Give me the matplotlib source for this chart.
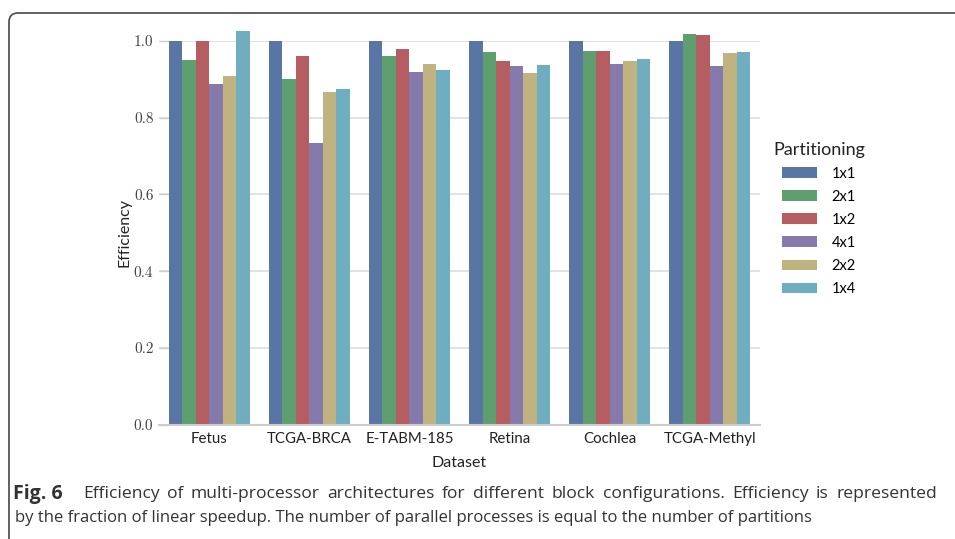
import numpy as np
import matplotlib
matplotlib.use("Agg")
import matplotlib.pyplot as plt
from matplotlib.patches import PathPatch
from matplotlib.path import Path

datasets = ["Fetus", "TCGA-BRCA", "E-TABM-185", "Retina", "Cochlea", "TCGA-Methyl"]
partitions = ["1x1", "2x1", "1x2", "4x1", "2x2", "1x4"]

eff_1x1 = [1.000, 1.000, 1.000, 1.000, 1.000, 1.000]
eff_2x1 = [0.950, 0.900, 0.960, 0.970, 0.973, 1.017]
eff_1x2 = [0.998, 0.960, 0.978, 0.946, 0.973, 1.015]
eff_4x1 = [0.887, 0.733, 0.918, 0.934, 0.939, 0.934]
eff_2x2 = [0.908, 0.866, 0.939, 0.916, 0.946, 0.968]
eff_1x4 = [1.025, 0.874, 0.924, 0.936, 0.952, 0.970]
series = [eff_1x1, eff_2x1, eff_1x2, eff_4x1, eff_2x2, eff_1x4]

colors = ["#5975a4", "#5f9e6e", "#b55d60", "#857aab", "#c1b37f", "#6fadc0"]

caption_bold = "Fig. 6"
caption_line1 = ("Efficiency of multi-processor architectures for different block "
                 "configurations. Efficiency is represented")
caption_line2 = ("by the fraction of linear speedup. The number of parallel processes "
                 "is equal to the number of partitions")

fig = plt.figure(figsize=(9.55, 5.39), dpi=100)
W, H = 955, 539
ax = fig.add_axes([159 / W, (H - 425) / H, (760 - 159) / W, (425 - 40.7) / H])

x = np.arange(len(datasets))
n = len(series)
bw = 0.81 / n
for i, (vals, c) in enumerate(zip(series, colors)):
    ax.bar(x - 0.405 + bw * (i + 0.5), vals, width=bw, color=c, label=partitions[i],
           linewidth=0, zorder=2, clip_on=False)

ax.set_xlim(-0.5, len(datasets) - 0.5)
ax.set_ylim(0, 1.0)
yt = [0.0, 0.2, 0.4, 0.6, 0.8, 1.0]
ax.set_yticks(yt)
ax.set_yticklabels([f"{v:.1f}" for v in yt], fontfamily="cmr10", fontsize=11, color="#444444")
ax.set_xticks(x)
ax.set_xticklabels(datasets, fontfamily="Lato", fontsize=10.8, color="#222222")
ax.tick_params(axis="x", length=0, pad=5)
ax.tick_params(axis="y", direction="in", length=7, width=1, color="#cccccc", pad=4)
ax.grid(axis="y", color="#dddddd", linewidth=1.2, zorder=0)
ax.set_axisbelow(True)
for s in ["top", "right", "left"]:
    ax.spines[s].set_visible(False)
ax.spines["bottom"].set_color("#cccccc")
ax.spines["bottom"].set_linewidth(1.5)

ax.set_xlabel("Dataset", fontfamily="Lato", fontsize=11.5, color="#222222", labelpad=7)
ax.set_ylabel("Efficiency", fontfamily="Lato", fontsize=11.5, color="#222222", labelpad=2)

leg = ax.legend(title="Partitioning", loc="center left", bbox_to_anchor=(1.0, 0.537),
                frameon=False, prop={"family": "Lato", "size": 10.5},
                handlelength=2.4, handleheight=0.7, handletextpad=1.0, labelspacing=0.62)
leg.get_title().set_fontfamily("Lato")
leg.get_title().set_fontsize(13)
leg.get_title().set_color("#222222")

# caption, first line justified between x=83 and x=937
renderer = fig.canvas.get_renderer()
y1 = 1 - 494 / H
y2 = 1 - 518 / H
fig.text(13 / W, y1, caption_bold, fontsize=14, color="#333333", fontweight="bold",
         va="center", ha="left", fontfamily="Open Sans")
words = caption_line1.split()
word_texts = [fig.text(0, y1, w, fontsize=12.6, color="#333333", va="center", ha="left",
                       fontfamily="Open Sans") for w in words]
widths = [t.get_window_extent(renderer).width for t in word_texts]
start, end = 83, 937
gap = (end - start - sum(widths)) / (len(words) - 1)
pos = start
for t, w in zip(word_texts, widths):
    t.set_x(pos / W)
    pos += w + gap
fig.text(15 / W, y2, caption_line2, fontsize=12, color="#333333", va="center", ha="left",
         fontfamily="Open Sans")

# rounded frame around the figure (top and left edges only are visible)
fx, fy, r = 0.09, (H - 13) / 100, 0.09
verts = [(fx, -0.5), (fx, fy - r), (fx, fy), (fx + r, fy), (10.5, fy)]
codes = [Path.MOVETO, Path.LINETO, Path.CURVE3, Path.CURVE3, Path.LINETO]
frame = PathPatch(Path(verts, codes), transform=fig.dpi_scale_trans, fill=False,
                  edgecolor="#555555", linewidth=1.3, clip_on=False)
fig.patches.append(frame)

fig.savefig("out.png", dpi=100)
